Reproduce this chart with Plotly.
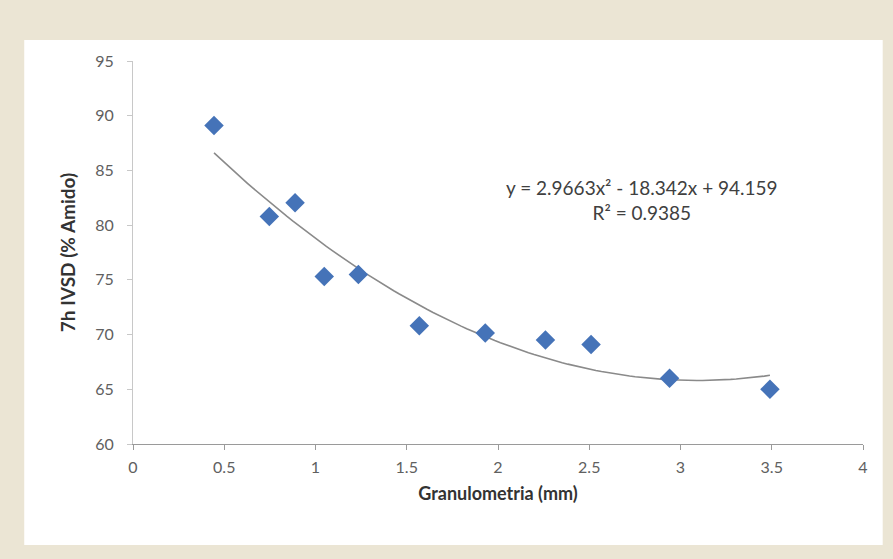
import numpy as np
import plotly.graph_objects as go

granulometria = [0.444, 0.747, 0.888, 1.048, 1.235, 1.569, 1.93, 2.26, 2.51, 2.94, 3.49]
ivsd = [89.1, 80.8, 82.05, 75.3, 75.5, 70.8, 70.15, 69.5, 69.1, 66.0, 65.0]
coef = [2.9663, -18.342, 94.159]
r2 = 0.9385

xt = np.linspace(min(granulometria), max(granulometria), 100)
yt = np.polyval(coef, xt)

fig = go.Figure()
fig.add_trace(go.Scatter(x=xt, y=yt, mode="lines",
                         line=dict(color="#8a8a8a", width=1.6), hoverinfo="skip"))
fig.add_trace(go.Scatter(x=granulometria, y=ivsd, mode="markers",
                         marker=dict(symbol="diamond", size=15, color="#4573b8",
                                     line=dict(width=0))))

fig.add_shape(type="rect", xref="paper", yref="paper", x0=-0.149, x1=1.027,
              y0=-0.264, y1=1.055, fillcolor="white", line=dict(width=0), layer="below")

fig.add_annotation(x=2.79, y=82.3, xref="x", yref="y", showarrow=False,
                   text=f"y = {coef[0]}x² - {abs(coef[1])}x + {coef[2]}<br>R² = {r2}",
                   font=dict(family="Lato", size=19, color="#404040"), align="center")

fig.update_layout(
    width=893, height=559,
    margin=dict(l=133, r=30, t=61, b=115),
    paper_bgcolor="#ebe5d4", plot_bgcolor="white",
    showlegend=False,
    font=dict(family="Lato", color="#595959"),
)
fig.update_xaxes(range=[0, 4], dtick=0.5, showgrid=False, zeroline=False,
                 showline=True, linecolor="#9a9a9a", linewidth=1.2,
                 ticks="outside", ticklen=5, tickcolor="#9a9a9a",
                 tickfont=dict(size=16, color="#606060"), ticklabelstandoff=4,
                 title=dict(text="<b>Granulometria (mm)</b>", font=dict(size=18, color="#333333"),
                            standoff=12))
fig.update_yaxes(range=[60, 95], dtick=5, showgrid=False, zeroline=False,
                 showline=True, linecolor="#c8c8c8", linewidth=1,
                 ticks="outside", ticklen=5, tickcolor="#c8c8c8",
                 tickfont=dict(size=16, color="#606060"), ticklabelstandoff=10,
                 title=dict(text="<b>7h IVSD (% Amido)</b>", font=dict(size=19, color="#333333"),
                            standoff=14))

fig.write_html("out.html", config={"displayModeBar": False},
               post_script="document.body.style.margin='0';document.body.style.overflow='hidden';")
